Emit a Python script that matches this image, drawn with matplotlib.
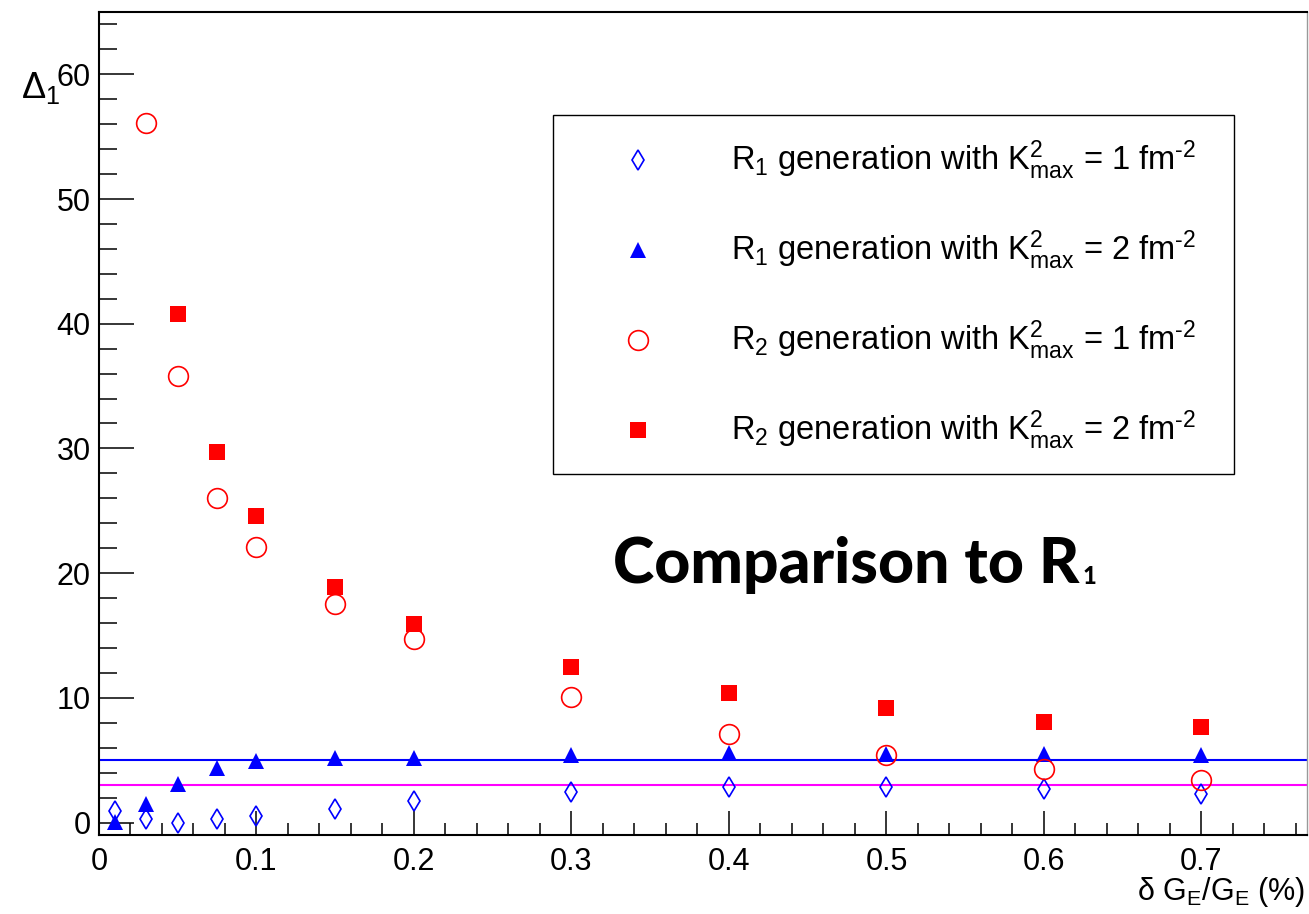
import matplotlib
matplotlib.use("Agg")
import matplotlib.pyplot as plt
from matplotlib.patches import Rectangle
from matplotlib.ticker import MultipleLocator

plt.rcParams['font.family'] = ['Liberation Sans', 'DejaVu Sans']
plt.rcParams['mathtext.fontset'] = 'custom'
plt.rcParams['mathtext.rm'] = 'Liberation Sans'
plt.rcParams['mathtext.it'] = 'Liberation Sans'
plt.rcParams['mathtext.sf'] = 'Liberation Sans'

# ---- data ----
x_r1_k1 = [0.01, 0.03, 0.05, 0.075, 0.1, 0.15, 0.2, 0.3, 0.4, 0.5, 0.6, 0.7]
y_r1_k1 = [0.9, 0.25, 0.0, 0.25, 0.5, 1.1, 1.7, 2.45, 2.85, 2.85, 2.65, 2.3]

x_r1_k2 = [0.01, 0.03, 0.05, 0.075, 0.1, 0.15, 0.2, 0.3, 0.4, 0.5, 0.6, 0.7]
y_r1_k2 = [0.05, 1.45, 3.05, 4.35, 4.9, 5.2, 5.2, 5.4, 5.6, 5.5, 5.5, 5.4]

x_r2_k1 = [0.03, 0.05, 0.075, 0.1, 0.15, 0.2, 0.3, 0.4, 0.5, 0.6, 0.7]
y_r2_k1 = [56.1, 35.8, 26.0, 22.1, 17.5, 14.7, 10.1, 7.1, 5.4, 4.3, 3.4]

x_r2_k2 = [0.05, 0.075, 0.1, 0.15, 0.2, 0.3, 0.4, 0.5, 0.6, 0.7]
y_r2_k2 = [40.8, 29.7, 24.6, 18.9, 15.9, 12.5, 10.4, 9.2, 8.1, 7.7]

hline_blue = 5.0
hline_magenta = 3.0

labels = [r"R$_1$ generation with K$^2_{\rm max}$ = 1 fm$^{\text{-2}}$",
          r"R$_1$ generation with K$^2_{\rm max}$ = 2 fm$^{\text{-2}}$",
          r"R$_2$ generation with K$^2_{\rm max}$ = 1 fm$^{\text{-2}}$",
          r"R$_2$ generation with K$^2_{\rm max}$ = 2 fm$^{\text{-2}}$"]

W, H = 1309, 914
fig = plt.figure(figsize=(W / 100, H / 100), dpi=100)
L, R, T, B = 99, 1307, 12, 835
ax = fig.add_axes([L / W, 1 - B / H, (R - L) / W, (B - T) / H])
ax.set_xlim(0, 0.767)
ax.set_ylim(-1, 65)

blue = (0, 0, 1)
red = (1, 0, 0)
mag = (1, 0, 1)

ax.axhline(hline_blue, color=blue, lw=1.5, zorder=2)
ax.axhline(hline_magenta, color=mag, lw=1.5, zorder=2)

st = [
    dict(marker='d', ms=10.2, mfc='none', mec=blue, mew=1.2),
    dict(marker='^', ms=12, mfc=blue, mec=blue, mew=0),
    dict(marker='o', ms=14.2, mfc='none', mec=red, mew=1.2),
    dict(marker='s', ms=12.2, mfc=red, mec=red, mew=0),
]
xs = [x_r1_k1, x_r1_k2, x_r2_k1, x_r2_k2]
ys = [y_r1_k1, y_r1_k2, y_r2_k1, y_r2_k2]
for xv, yv, s in zip(xs, ys, st):
    ax.plot(xv, yv, ls='none', zorder=3, **s)

# axes styling
for sp in ['left', 'bottom', 'top']:
    ax.spines[sp].set_linewidth(1.5)
ax.spines['right'].set_linewidth(1.0)
ax.spines['right'].set_color('#999999')
ax.xaxis.set_major_locator(MultipleLocator(0.1))
ax.xaxis.set_minor_locator(MultipleLocator(0.02))
ax.yaxis.set_major_locator(MultipleLocator(10))
ax.yaxis.set_minor_locator(MultipleLocator(2))
ax.tick_params(axis='x', which='major', direction='in', length=17, width=1.1,
               labelsize=22, pad=9, top=False)
ax.tick_params(axis='x', which='minor', direction='in', length=8.5, width=1.1, top=False)
ax.tick_params(axis='y', which='major', direction='in', length=25, width=1.1,
               labelsize=22, pad=6, right=False)
ax.tick_params(axis='y', which='minor', direction='in', length=13, width=1.1, right=False)
ax.set_xticks([0, 0.1, 0.2, 0.3, 0.4, 0.5, 0.6, 0.7])
ax.set_xticklabels(['0', '0.1', '0.2', '0.3', '0.4', '0.5', '0.6', '0.7'])

def ax_frac(px, py):
    return (px - L) / (R - L), (B - py) / (B - T)

# legend box drawn manually
x0, y1 = ax_frac(553, 115)
x1, y0 = ax_frac(1234, 474)
ax.add_patch(Rectangle((x0, y0), x1 - x0, y1 - y0, transform=ax.transAxes,
                       fill=True, facecolor='white', edgecolor='black', lw=1.0,
                       zorder=5, clip_on=False))
rows = [160, 250, 340, 430]
for lab, s, ry in zip(labels, st, rows):
    mx, my = ax_frac(638, ry)
    ax.plot([mx], [my], transform=ax.transAxes, ls='none', zorder=6, clip_on=False, **s)
    tx, ty = ax_frac(731, ry)
    ax.text(tx, ty, lab, transform=ax.transAxes, fontsize=23.5, va='center', ha='left', zorder=6)

# Comparison text
cx, cy = ax_frac(613, 583)
ctxt = ax.text(cx, cy, r"Comparison to R", transform=ax.transAxes, fontsize=45,
               family=['Lato', 'DejaVu Sans'], fontweight='black', ha='left', va='baseline')
ax.annotate("1", xy=(1, 0), xycoords=ctxt, xytext=(2, 4), textcoords='offset points',
            fontsize=17, family=['Lato', 'DejaVu Sans'], fontweight='black',
            ha='left', va='bottom')

# y label
fig.text(21 / W, 1 - 98 / H, r"$\Delta_1$", fontsize=26, ha='left', va='baseline')
# x label
fig.text(1305 / W, 1 - 900 / H, r"$\delta$ G$_{\rm E}$/G$_{\rm E}$ (%)", fontsize=22,
         ha='right', va='baseline')

fig.savefig("out.png", dpi=100)
